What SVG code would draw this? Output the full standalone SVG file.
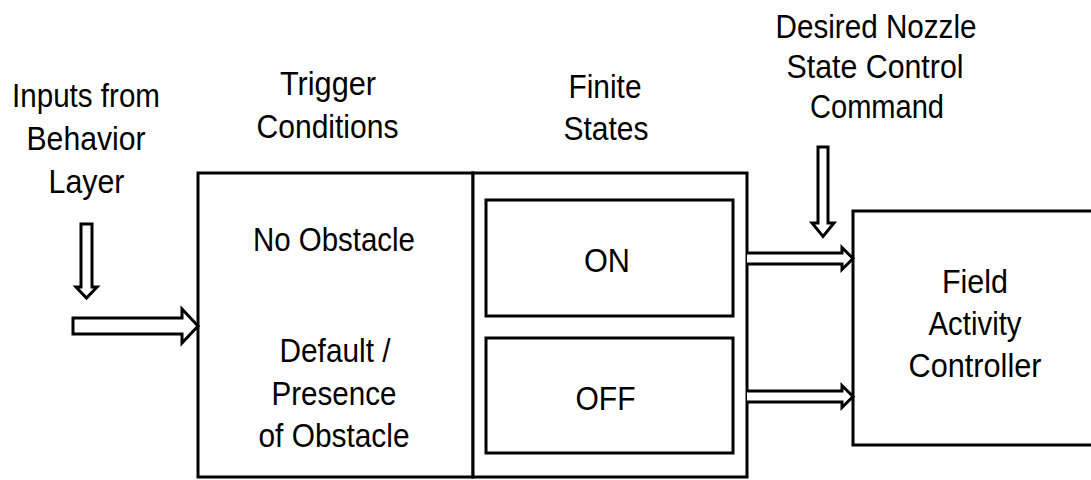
<svg xmlns="http://www.w3.org/2000/svg" width="1091" height="480" viewBox="0 0 1091 480">
<style>
.box{fill:#fff;stroke:#000;stroke-width:3}
.arr{fill:#fff;stroke:#000;stroke-width:3;stroke-linejoin:miter}
text{font-family:"Liberation Sans",Arial,sans-serif;font-size:34px;fill:#000;text-anchor:middle}
</style>
<rect width="1091" height="480" fill="#fff"/>
<g id="label-inputs">
<text x="86" y="107" textLength="148" lengthAdjust="spacingAndGlyphs">Inputs from</text>
<text x="86" y="150" textLength="119" lengthAdjust="spacingAndGlyphs">Behavior</text>
<text x="86.5" y="193" textLength="76" lengthAdjust="spacingAndGlyphs">Layer</text>
</g>
<g id="label-trigger">
<text x="328" y="95" textLength="96" lengthAdjust="spacingAndGlyphs">Trigger</text>
<text x="327.5" y="138" textLength="142" lengthAdjust="spacingAndGlyphs">Conditions</text>
</g>
<g id="label-finite">
<text x="605" y="98" textLength="73" lengthAdjust="spacingAndGlyphs">Finite</text>
<text x="606" y="140" textLength="85" lengthAdjust="spacingAndGlyphs">States</text>
</g>
<g id="label-desired">
<text x="876" y="38" textLength="201" lengthAdjust="spacingAndGlyphs">Desired Nozzle</text>
<text x="875" y="78" textLength="177" lengthAdjust="spacingAndGlyphs">State Control</text>
<text x="877" y="118" textLength="134" lengthAdjust="spacingAndGlyphs">Command</text>
</g>
<g id="trigger-conditions">
<rect class="box" x="198" y="173" width="275" height="304"/>
<text x="334" y="251" textLength="162" lengthAdjust="spacingAndGlyphs">No Obstacle</text>
<text x="335" y="362" textLength="111" lengthAdjust="spacingAndGlyphs">Default /</text>
<text x="334" y="405" textLength="125" lengthAdjust="spacingAndGlyphs">Presence</text>
<text x="334" y="447" textLength="151" lengthAdjust="spacingAndGlyphs">of Obstacle</text>
</g>
<g id="finite-states">
<rect class="box" x="473" y="173" width="274" height="304"/>
</g>
<g id="state-on">
<rect class="box" x="486" y="200" width="247" height="116"/>
<text x="607" y="272" textLength="46" lengthAdjust="spacingAndGlyphs">ON</text>
</g>
<g id="state-off">
<rect class="box" x="486" y="338" width="247" height="115"/>
<text x="605.5" y="410" textLength="60" lengthAdjust="spacingAndGlyphs">OFF</text>
</g>
<g id="field-activity-controller">
<rect class="box" x="853" y="211" width="250" height="234"/>
<text x="975" y="293" textLength="66" lengthAdjust="spacingAndGlyphs">Field</text>
<text x="975" y="335" textLength="93" lengthAdjust="spacingAndGlyphs">Activity</text>
<text x="975" y="377" textLength="133" lengthAdjust="spacingAndGlyphs">Controller</text>
</g>
<g id="connectors">
<path class="arr" d="M73,318 H182 V309 L198,326 L182,343 V334 H73 Z"/>
<path class="arr" d="M81,224 H92 V287 H97 L86.5,298 L76,287 H81 Z"/>
<path class="arr" d="M818,147 H828 V223 H834 L823,236.5 L812,223 H818 Z"/>
<path class="arr" d="M747,253 H842 V247.5 L853,258.5 L842,269.5 V264 H747"/>
<path class="arr" d="M747,391 H842 V385.5 L853,396.5 L842,407.5 V402 H747"/>
</g>
</svg>
